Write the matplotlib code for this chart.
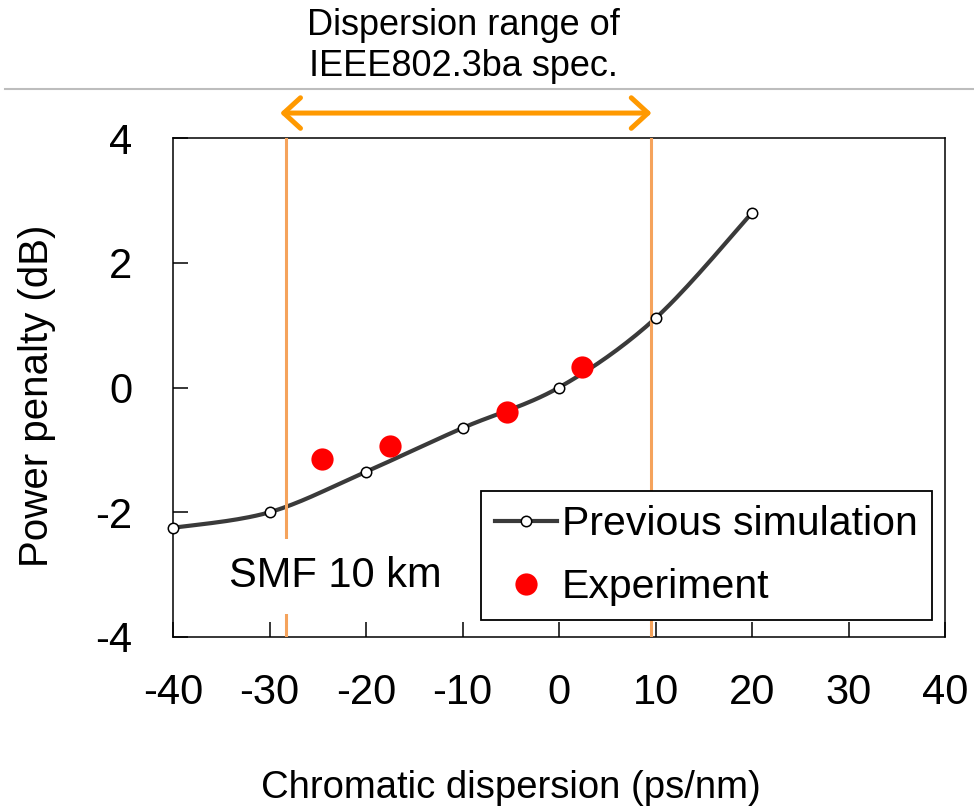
import numpy as np
import matplotlib
matplotlib.use('Agg')
import matplotlib.pyplot as plt
from matplotlib.lines import Line2D

plt.rcParams['font.family'] = ['Liberation Sans', 'DejaVu Sans']
plt.rcParams['axes.unicode_minus'] = False

# Data
simX = [-40, -30, -20, -10, 0, 10, 20]
simY = [-2.25, -2.0, -1.35, -0.65, 0.0, 1.11, 2.80]
expX = [-24.6, -17.5, -5.4, 2.35]
expY = [-1.14, -0.93, -0.40, 0.33]
specLimits = [-28.3, 9.5]      # vertical lines
arrowLimits = [-28.9, 9.6]     # double arrow ends
xTicks = [-40, -30, -20, -10, 0, 10, 20, 30, 40]
yTicks = [-4, -2, 0, 2, 4]


# Smoothed line like a spreadsheet chart (Catmull-Rom through the points)
def smoothLine(x, y, nSeg=30):
    p = np.column_stack([x, y]).astype(float)
    p = np.vstack([p[0], p, p[-1]])
    out = []
    t = np.linspace(0, 1, nSeg, endpoint=False)
    for i in range(1, len(p) - 2):
        p0, p1, p2, p3 = p[i - 1], p[i], p[i + 1], p[i + 2]
        for tt in t:
            out.append(0.5 * ((2 * p1) + (-p0 + p2) * tt
                              + (2 * p0 - 5 * p1 + 4 * p2 - p3) * tt ** 2
                              + (-p0 + 3 * p1 - 3 * p2 + p3) * tt ** 3))
    out.append(p[-2])
    out = np.array(out)
    return out[:, 0], out[:, 1]


fig = plt.figure(figsize=(9.74, 8.10), dpi=100)
ax = fig.add_axes([173 / 974, 1 - 637 / 810, 772 / 974, 499 / 810])

orange = '#F5A35C'
for xv in specLimits:
    ax.axvline(xv, color=orange, lw=2.2, zorder=3)

sx, sy = smoothLine(simX, simY)
ax.plot(sx, sy, color='#3a3a3a', lw=3.0, zorder=2, solid_capstyle='round')
ax.plot(simX, simY, ls='none', marker='o', ms=7.5, mfc='white', mec='black',
        mew=1.1, zorder=4, clip_on=False)
ax.plot(expX, expY, ls='none', marker='o', ms=16, color='#FF0000', mec='none', zorder=4)

# legend handles
simHandle = Line2D([], [], color='#3a3a3a', lw=3.0, marker='o', ms=7.5,
                   mfc='white', mec='black', mew=1.1)
expHandle = Line2D([], [], ls='none', marker='o', ms=16, color='#FF0000', mec='none')
leg = ax.legend([simHandle, expHandle], ['Previous simulation', 'Experiment'],
                loc='upper left', bbox_to_anchor=((481 - 173) / 772, (637 - 491) / 499),
                borderaxespad=0, fontsize=29.5, frameon=True, fancybox=False,
                edgecolor='black', framealpha=1, handlelength=1.5,
                handletextpad=0.12, borderpad=0.35, labelspacing=0.6)
leg.get_frame().set_linewidth(1.3)

ax.text(-23.2, -3.03, 'SMF 10 km', fontsize=30, ha='center', va='center', zorder=5,
        bbox=dict(facecolor='white', edgecolor='none', pad=13))

ax.set_xlim(-40, 40)
ax.set_ylim(-4, 4)
ax.set_xticks(xTicks)
ax.set_yticks(yTicks)
ax.tick_params(axis='both', direction='in', length=11, width=1.1, labelsize=30)
ax.tick_params(axis='x', pad=26)
ax.tick_params(axis='y', pad=29.5)
for s in ax.spines.values():
    s.set_linewidth(1.1)

# double arrow for the spec range
ax.annotate('', xy=(arrowLimits[0], 4.4), xytext=(arrowLimits[1], 4.4),
            xycoords='data', annotation_clip=False,
            arrowprops=dict(arrowstyle='<->,head_length=0.6,head_width=0.55',
                            color='#FF9900', lw=3.6, shrinkA=0, shrinkB=0,
                            mutation_scale=20))

fig.text(463 / 974, 1 - 46 / 810, 'Dispersion range of\nIEEE802.3ba spec.',
         fontsize=26, ha='center', va='center', linespacing=1.2)
fig.add_artist(Line2D([0.005, 1.0], [1 - 89 / 810, 1 - 89 / 810],
                      transform=fig.transFigure, color='#BDBDBD', lw=1.5))

fig.text(511 / 974, 1 - 798 / 810, 'Chromatic dispersion (ps/nm)',
         fontsize=27.5, ha='center', va='baseline')
fig.text(37 / 974, 1 - 396 / 810, 'Power penalty (dB)', fontsize=29,
         rotation=90, ha='center', va='center')

fig.savefig('out.png', dpi=100)
